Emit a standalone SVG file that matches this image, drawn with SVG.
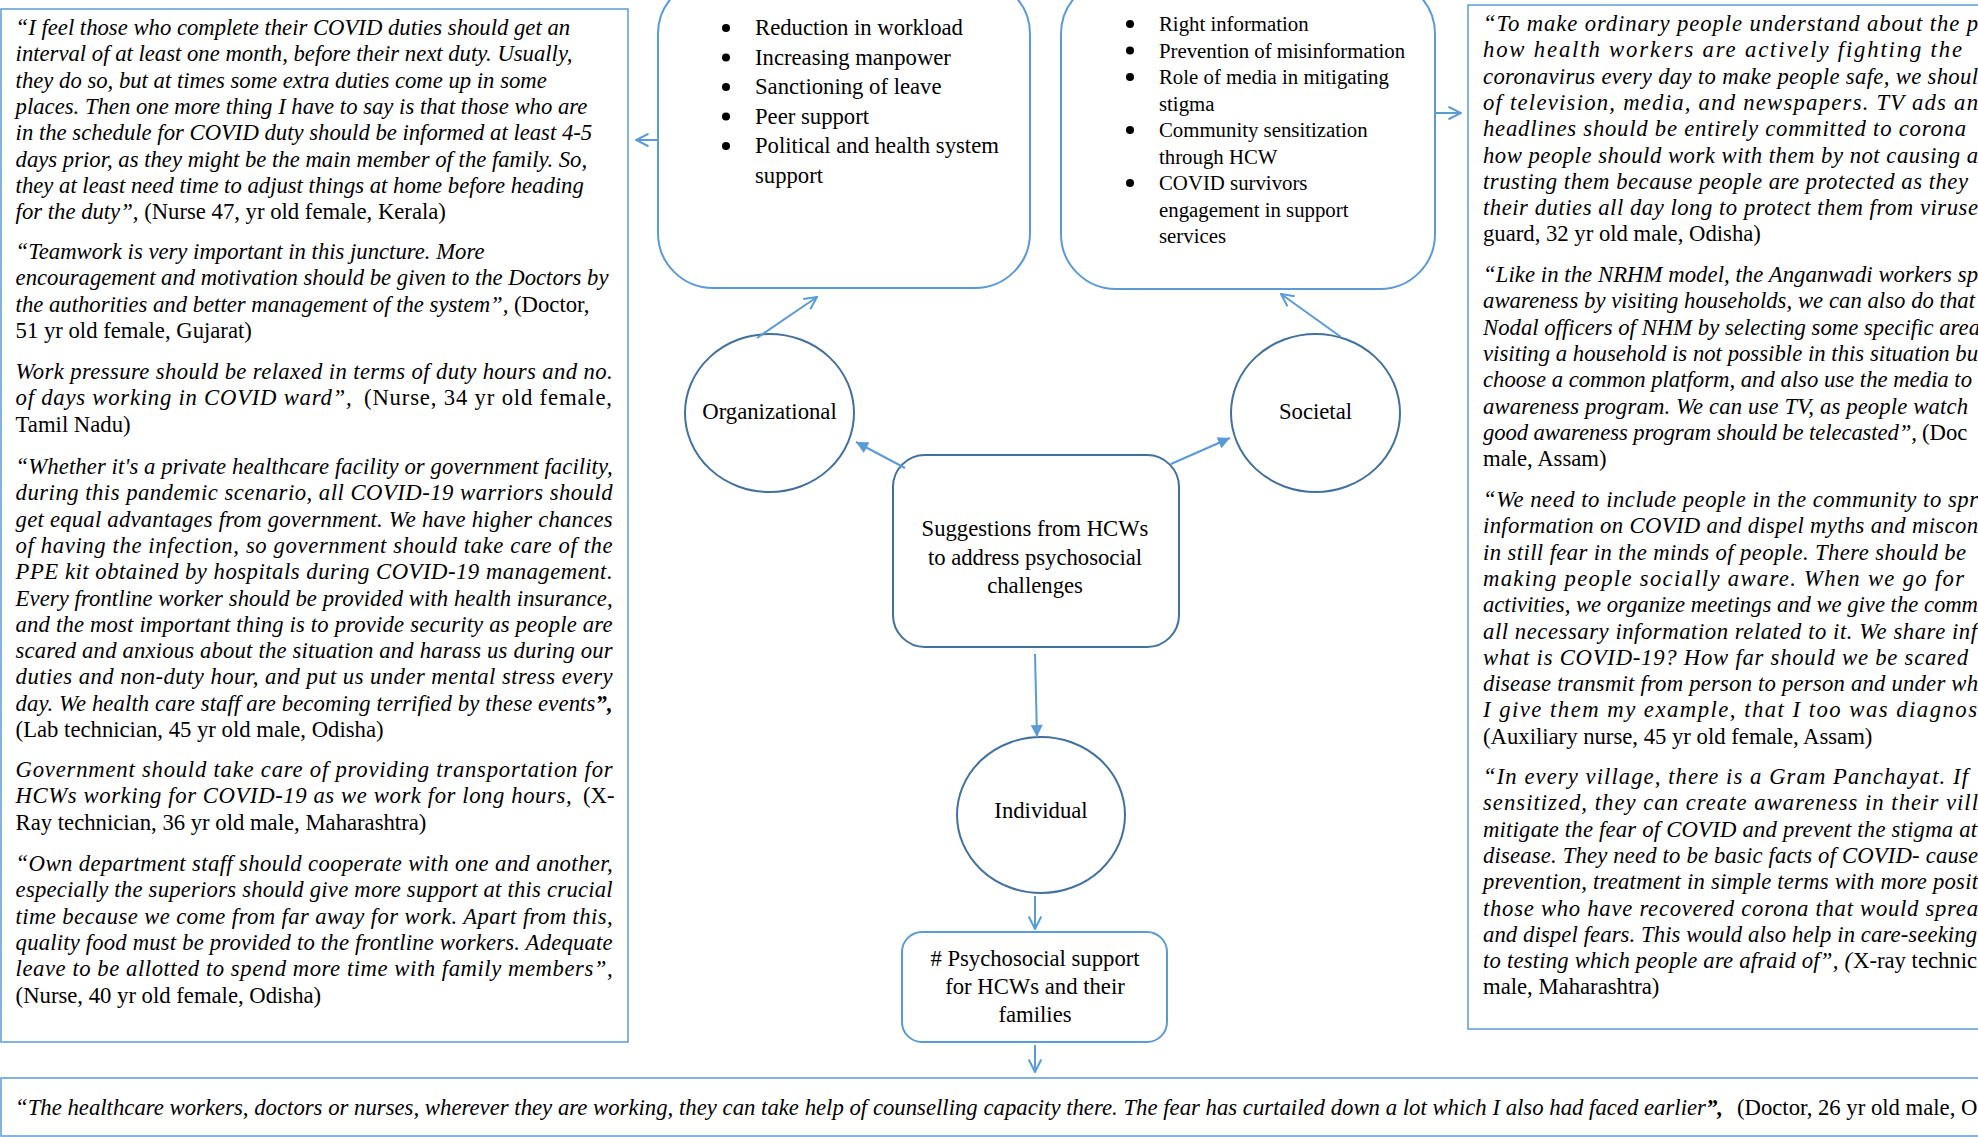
<svg xmlns="http://www.w3.org/2000/svg" width="1978" height="1137" viewBox="0 0 1978 1137">
<style>
text{font-family:"Liberation Serif","Times New Roman",serif;font-size:22.7px;fill:#000}
.i{font-style:italic}
.b{font-weight:bold}
.s{font-size:20.8px}
.c{text-anchor:middle}
.box{fill:none;stroke:#5B9BD5;stroke-width:1.5}
.rbox{fill:#fff;stroke:#5B9BD5;stroke-width:2}
.dark{fill:#fff;stroke:#41719C;stroke-width:2}
.con{stroke:#5B9BD5;stroke-width:2;fill:none}
</style>
<defs>
<marker id="open" viewBox="0 0 12 12" refX="11" refY="6" markerWidth="15" markerHeight="15" markerUnits="userSpaceOnUse" orient="auto">
<path d="M1,1 L11,6 L1,11" fill="none" stroke="#5B9BD5" stroke-width="1.6"/>
</marker>
<marker id="fill" viewBox="0 0 10 10" refX="10" refY="5" markerWidth="13" markerHeight="12" markerUnits="userSpaceOnUse" orient="auto">
<path d="M0,0 L10,5 L0,10 z" fill="#5B9BD5"/>
</marker>
</defs>
<rect width="1978" height="1137" fill="#fff"/>

<g id="left-quotes">
<rect class="box" x="1" y="9" width="627" height="1033"/>
<text class="i" x="15.6" y="35">“I feel those who complete their COVID duties should get an</text>
<text class="i" x="15.6" y="61.3">interval of at least one month, before their next duty. Usually,</text>
<text class="i" x="15.6" y="87.6">they do so, but at times some extra duties come up in some</text>
<text class="i" x="15.6" y="113.9">places. Then one more thing I have to say is that those who are</text>
<text class="i" x="15.6" y="140.2">in the schedule for COVID duty should be informed at least 4-5</text>
<text class="i" x="15.6" y="166.5">days prior, as they might be the main member of the family. So,</text>
<text class="i" x="15.6" y="192.8">they at least need time to adjust things at home before heading</text>
<text x="15.6" y="219.1"><tspan class="i">for the duty”,</tspan> (Nurse 47, yr old female, Kerala)</text>
<text class="i" x="15.6" y="259">“Teamwork is very important in this juncture. More</text>
<text class="i" x="15.6" y="285.3">encouragement and motivation should be given to the Doctors by</text>
<text x="15.6" y="311.6"><tspan class="i">the authorities and better management of the system”,</tspan> (Doctor,</text>
<text x="15.6" y="337.9">51 yr old female, Gujarat)</text>
<text class="i" x="15.6" y="379" textLength="597" lengthAdjust="spacing">Work pressure should be relaxed in terms of duty hours and no.</text>
<text class="i" x="15.6" y="405.3" textLength="336" lengthAdjust="spacing">of days working in COVID ward”,</text>
<text x="364" y="405.3" textLength="248" lengthAdjust="spacing">(Nurse, 34 yr old female,</text>
<text x="15.6" y="431.6">Tamil Nadu)</text>
<text class="i" x="15.6" y="474" textLength="597" lengthAdjust="spacing">“Whether it's a private healthcare facility or government facility,</text>
<text class="i" x="15.6" y="500.3" textLength="597" lengthAdjust="spacing">during this pandemic scenario, all COVID-19 warriors should</text>
<text class="i" x="15.6" y="526.6" textLength="597" lengthAdjust="spacing">get equal advantages from government. We have higher chances</text>
<text class="i" x="15.6" y="552.9" textLength="597" lengthAdjust="spacing">of having the infection, so government should take care of the</text>
<text class="i" x="15.6" y="579.2" textLength="597" lengthAdjust="spacing">PPE kit obtained by hospitals during COVID-19 management.</text>
<text class="i" x="15.6" y="605.5" textLength="597" lengthAdjust="spacing">Every frontline worker should be provided with health insurance,</text>
<text class="i" x="15.6" y="631.8" textLength="597" lengthAdjust="spacing">and the most important thing is to provide security as people are</text>
<text class="i" x="15.6" y="658.1" textLength="597" lengthAdjust="spacing">scared and anxious about the situation and harass us during our</text>
<text class="i" x="15.6" y="684.4" textLength="597" lengthAdjust="spacing">duties and non-duty hour, and put us under mental stress every</text>
<text class="i" x="15.6" y="710.7" textLength="597" lengthAdjust="spacing">day. We health care staff are becoming terrified by these events<tspan class="b">”,</tspan></text>
<text x="15.6" y="737">(Lab technician, 45 yr old male, Odisha)</text>
<text class="i" x="15.6" y="777" textLength="597" lengthAdjust="spacing">Government should take care of providing transportation for</text>
<text class="i" x="15.6" y="803.3" textLength="556" lengthAdjust="spacing">HCWs working for COVID-19 as we work for long hours,</text>
<text x="583" y="803.3">(X-</text>
<text x="15.6" y="829.6">Ray technician, 36 yr old male, Maharashtra)</text>
<text class="i" x="15.6" y="871" textLength="597" lengthAdjust="spacing">“Own department staff should cooperate with one and another,</text>
<text class="i" x="15.6" y="897.3" textLength="597" lengthAdjust="spacing">especially the superiors should give more support at this crucial</text>
<text class="i" x="15.6" y="923.6" textLength="597" lengthAdjust="spacing">time because we come from far away for work. Apart from this,</text>
<text class="i" x="15.6" y="949.9" textLength="597" lengthAdjust="spacing">quality food must be provided to the frontline workers. Adequate</text>
<text class="i" x="15.6" y="976.2" textLength="597" lengthAdjust="spacing">leave to be allotted to spend more time with family members”,</text>
<text x="15.6" y="1002.5">(Nurse, 40 yr old female, Odisha)</text>
</g>

<g id="organizational-box">
<rect class="rbox" x="658" y="-21" width="372" height="309" rx="55"/>
<g fill="#000">
<circle cx="726" cy="28" r="4"/><circle cx="726" cy="57.5" r="4"/><circle cx="726" cy="87" r="4"/><circle cx="726" cy="116.5" r="4"/><circle cx="726" cy="146" r="4"/>
</g>
<text x="755" y="35">Reduction in workload</text>
<text x="755" y="64.5">Increasing manpower</text>
<text x="755" y="94">Sanctioning of leave</text>
<text x="755" y="123.5">Peer support</text>
<text x="755" y="153">Political and health system</text>
<text x="755" y="182.5">support</text>
</g>

<g id="societal-box">
<rect class="rbox" x="1061" y="-21" width="374" height="310" rx="55"/>
<g fill="#000">
<circle cx="1130" cy="24" r="4"/><circle cx="1130" cy="50.5" r="4"/><circle cx="1130" cy="77" r="4"/><circle cx="1130" cy="130" r="4"/><circle cx="1130" cy="183" r="4"/>
</g>
<text class="s" x="1159" y="31">Right information</text>
<text class="s" x="1159" y="57.5">Prevention of misinformation</text>
<text class="s" x="1159" y="84">Role of media in mitigating</text>
<text class="s" x="1159" y="110.5">stigma</text>
<text class="s" x="1159" y="137">Community sensitization</text>
<text class="s" x="1159" y="163.5">through HCW</text>
<text class="s" x="1159" y="190">COVID survivors</text>
<text class="s" x="1159" y="216.5">engagement in support</text>
<text class="s" x="1159" y="243">services</text>
</g>

<g id="right-quotes">
<rect class="box" x="1468" y="5" width="620" height="1024"/>
<text class="i" x="1483" y="31" textLength="495" lengthAdjust="spacing">“To make ordinary people understand about the p</text>
<text class="i" x="1483" y="57.3" textLength="479" lengthAdjust="spacing">how health workers are actively fighting the</text>
<text class="i" x="1483" y="83.6" textLength="495" lengthAdjust="spacing">coronavirus every day to make people safe, we shoul</text>
<text class="i" x="1483" y="109.9" textLength="495" lengthAdjust="spacing">of television, media, and newspapers. TV ads an</text>
<text class="i" x="1483" y="136.2" textLength="483" lengthAdjust="spacing">headlines should be entirely committed to corona</text>
<text class="i" x="1483" y="162.5" textLength="495" lengthAdjust="spacing">how people should work with them by not causing a</text>
<text class="i" x="1483" y="188.8" textLength="485" lengthAdjust="spacing">trusting them because people are protected as they</text>
<text class="i" x="1483" y="215.1" textLength="495" lengthAdjust="spacing">their duties all day long to protect them from viruse</text>
<text x="1483" y="241.4">guard, 32 yr old male, Odisha)</text>
<text class="i" x="1483" y="282" textLength="495" lengthAdjust="spacing">“Like in the NRHM model, the Anganwadi workers sp</text>
<text class="i" x="1483" y="308.3" textLength="492" lengthAdjust="spacing">awareness by visiting households, we can also do that</text>
<text class="i" x="1483" y="334.6" textLength="497" lengthAdjust="spacing">Nodal officers of NHM by selecting some specific area</text>
<text class="i" x="1483" y="360.9" textLength="495" lengthAdjust="spacing">visiting a household is not possible in this situation bu</text>
<text class="i" x="1483" y="387.2" textLength="489" lengthAdjust="spacing">choose a common platform, and also use the media to</text>
<text class="i" x="1483" y="413.5" textLength="485" lengthAdjust="spacing">awareness program. We can use TV, as people watch</text>
<text class="i" x="1483" y="439.8" textLength="434" lengthAdjust="spacing">good awareness program should be telecasted”,</text>
<text x="1922" y="439.8">(Doc</text>
<text x="1483" y="466.1">male, Assam)</text>
<text class="i" x="1483" y="507" textLength="495" lengthAdjust="spacing">“We need to include people in the community to spr</text>
<text class="i" x="1483" y="533.3" textLength="495" lengthAdjust="spacing">information on COVID and dispel myths and miscon</text>
<text class="i" x="1483" y="559.6" textLength="483" lengthAdjust="spacing">in still fear in the minds of people. There should be</text>
<text class="i" x="1483" y="585.9" textLength="481" lengthAdjust="spacing">making people socially aware. When we go for</text>
<text class="i" x="1483" y="612.2" textLength="495" lengthAdjust="spacing">activities, we organize meetings and we give the comm</text>
<text class="i" x="1483" y="638.5" textLength="494" lengthAdjust="spacing">all necessary information related to it. We share inf</text>
<text class="i" x="1483" y="664.8" textLength="485" lengthAdjust="spacing">what is COVID-19? How far should we be scared</text>
<text class="i" x="1483" y="691.1" textLength="495" lengthAdjust="spacing">disease transmit from person to person and under wh</text>
<text class="i" x="1483" y="717.4" textLength="494" lengthAdjust="spacing">I give them my example, that I too was diagnos</text>
<text x="1483" y="743.7">(Auxiliary nurse, 45 yr old female, Assam)</text>
<text class="i" x="1483" y="784" textLength="485" lengthAdjust="spacing">“In every village, there is a Gram Panchayat. If</text>
<text class="i" x="1483" y="810.3" textLength="495" lengthAdjust="spacing">sensitized, they can create awareness in their vill</text>
<text class="i" x="1483" y="836.6" textLength="494" lengthAdjust="spacing">mitigate the fear of COVID and prevent the stigma at</text>
<text class="i" x="1483" y="862.9" textLength="495" lengthAdjust="spacing">disease. They need to be basic facts of COVID- cause</text>
<text class="i" x="1483" y="889.2" textLength="495" lengthAdjust="spacing">prevention, treatment in simple terms with more posit</text>
<text class="i" x="1483" y="915.5" textLength="495" lengthAdjust="spacing">those who have recovered corona that would sprea</text>
<text class="i" x="1483" y="941.8" textLength="494" lengthAdjust="spacing">and dispel fears. This would also help in care-seeking</text>
<text class="i" x="1483" y="968.1" textLength="369" lengthAdjust="spacing">to testing which people are afraid of”, (</text>
<text x="1853" y="968.1">X-ray technic</text>
<text x="1483" y="994.4">male, Maharashtra)</text>
</g>

<g id="organizational">
<ellipse class="dark" cx="769.5" cy="413" rx="84.5" ry="79"/>
<text class="c" x="769.5" y="419">Organizational</text>
</g>
<g id="societal">
<ellipse class="dark" cx="1315.5" cy="413" rx="84.5" ry="79"/>
<text class="c" x="1315.5" y="419">Societal</text>
</g>
<g id="suggestions">
<rect class="dark" x="893" y="455" width="286" height="192" rx="32"/>
<text class="c" x="1035" y="536">Suggestions from HCWs</text>
<text class="c" x="1035" y="565">to address psychosocial</text>
<text class="c" x="1035" y="593">challenges</text>
</g>
<g id="individual">
<ellipse class="dark" cx="1041" cy="815" rx="84" ry="78"/>
<text class="c" x="1041" y="818">Individual</text>
</g>
<g id="psychosocial-support">
<rect class="rbox" x="902" y="932" width="265" height="110" rx="20"/>
<text class="c" x="1035" y="966"># Psychosocial support</text>
<text class="c" x="1035" y="994">for HCWs and their</text>
<text class="c" x="1035" y="1022">families</text>
</g>
<g id="bottom-quote">
<rect class="box" x="1" y="1078" width="2000" height="58"/>
<text class="i" x="15" y="1115" textLength="1708" lengthAdjust="spacingAndGlyphs">“The healthcare workers, doctors or nurses, wherever they are working, they can take help of counselling capacity there. The fear has curtailed down a lot which I also had faced earlier<tspan class="b">”,</tspan></text>
<text x="1737" y="1115">(Doctor, 26 yr old male, O</text>
</g>

<g id="connectors">
<line class="con" x1="658" y1="140" x2="636" y2="140" marker-end="url(#open)"/>
<line class="con" x1="1435" y1="113" x2="1461" y2="113" marker-end="url(#open)"/>
<line class="con" x1="757" y1="338" x2="817" y2="297" marker-end="url(#open)"/>
<line class="con" x1="1341" y1="337" x2="1281" y2="294" marker-end="url(#open)"/>
<line class="con" x1="905" y1="468" x2="856" y2="442" marker-end="url(#fill)"/>
<line class="con" x1="1171" y1="464" x2="1230" y2="438" marker-end="url(#fill)"/>
<line class="con" x1="1035" y1="654" x2="1037" y2="737" marker-end="url(#fill)"/>
<line class="con" x1="1035" y1="896" x2="1035" y2="929" marker-end="url(#open)"/>
<line class="con" x1="1035" y1="1045" x2="1035" y2="1072" marker-end="url(#open)"/>
</g>
</svg>
